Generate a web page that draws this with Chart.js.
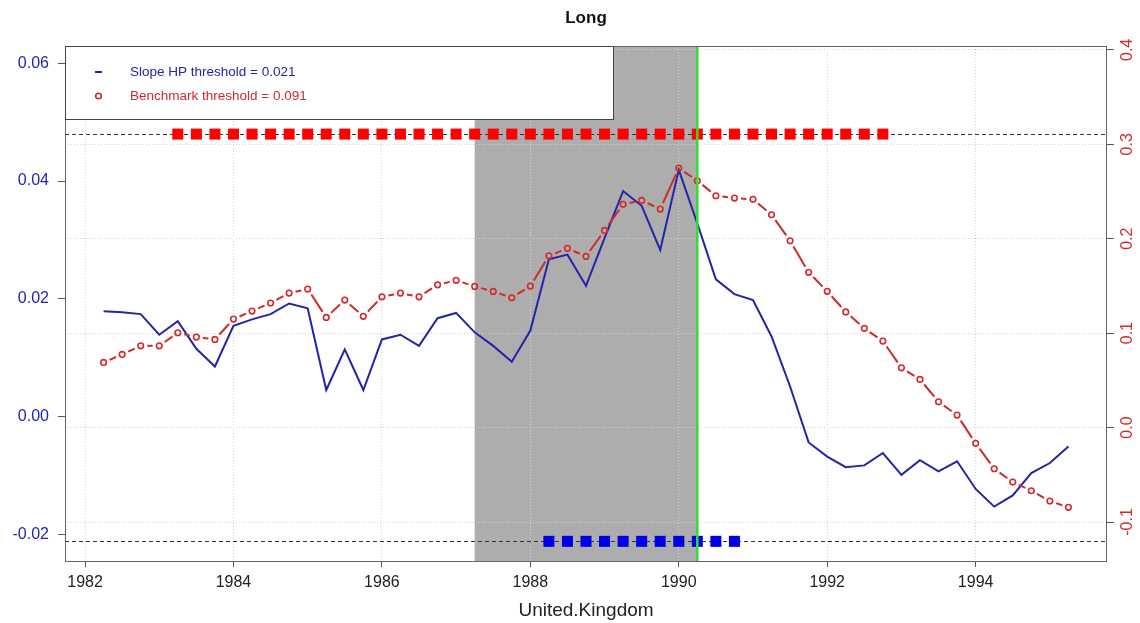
<!DOCTYPE html>
<html><head><meta charset="utf-8">
<script src="https://cdn.jsdelivr.net/npm/chart.js@4.4.1/dist/chart.umd.min.js"></script>
<style>html,body{margin:0;padding:0;background:#fff;} #wrap{width:1140px;height:623px;position:relative;}</style>
</head><body><div id="wrap"><canvas id="c"></canvas></div>
<script>
// ---- data ----
const quarters = [1982.25,1982.5,1982.75,1983,1983.25,1983.5,1983.75,1984,1984.25,1984.5,1984.75,1985,1985.25,1985.5,1985.75,1986,1986.25,1986.5,1986.75,1987,1987.25,1987.5,1987.75,1988,1988.25,1988.5,1988.75,1989,1989.25,1989.5,1989.75,1990,1990.25,1990.5,1990.75,1991,1991.25,1991.5,1991.75,1992,1992.25,1992.5,1992.75,1993,1993.25,1993.5,1993.75,1994,1994.25,1994.5,1994.75,1995,1995.25];
const slopeHP = [0.0179,0.0177,0.0174,0.0139,0.0162,0.0115,0.0085,0.0154,0.0165,0.0174,0.0192,0.0184,0.0045,0.0114,0.0045,0.0131,0.0139,0.0120,0.0167,0.0176,0.0143,0.0120,0.0093,0.0146,0.0267,0.0275,0.0222,0.0303,0.0383,0.0358,0.0283,0.0419,0.0328,0.0233,0.0208,0.0198,0.0136,0.0051,-0.0044,-0.0068,-0.0086,-0.0083,-0.0062,-0.0099,-0.0074,-0.0093,-0.0076,-0.0123,-0.0153,-0.0134,-0.0096,-0.0079,-0.0051];
const benchmark = [0.0690,0.0775,0.0866,0.0866,0.1004,0.0958,0.0934,0.1149,0.1234,0.1319,0.1424,0.1467,0.1167,0.1350,0.1178,0.1385,0.1424,0.1385,0.1512,0.1559,0.1495,0.1442,0.1375,0.1499,0.1819,0.1898,0.1813,0.2088,0.2364,0.2406,0.2314,0.2748,0.2614,0.2455,0.2431,0.2417,0.2254,0.1978,0.1644,0.1443,0.1225,0.1051,0.0916,0.0633,0.0510,0.0273,0.0132,-0.0167,-0.0436,-0.0577,-0.0669,-0.0778,-0.0845];
const benchmarkSignals = [1983.25,1983.5,1983.75,1984,1984.25,1984.5,1984.75,1985,1985.25,1985.5,1985.75,1986,1986.25,1986.5,1986.75,1987,1987.25,1987.5,1987.75,1988,1988.25,1988.5,1988.75,1989,1989.25,1989.5,1989.75,1990,1990.25,1990.5,1990.75,1991,1991.25,1991.5,1991.75,1992,1992.25,1992.5,1992.75];
const slopeSignals = [1988.25,1988.5,1988.75,1989,1989.25,1989.5,1989.75,1990,1990.25,1990.5,1990.75];
const slopeThresholdLine = -0.0212;     // left axis
const benchmarkThresholdLine = 0.3108;  // right axis
const crisisStart = 1987.25, crisisEnd = 1990.25, peakQuarter = 1990.25;
const xTicks = [1982,1984,1986,1988,1990,1992,1994];
const leftTicks = [-0.02,0,0.02,0.04,0.06];
const rightTicks = [-0.1,0,0.1,0.2,0.3,0.4];
const legendLabels = ['Slope HP threshold = 0.021','Benchmark threshold = 0.091'];
const titleText = 'Long';
const xTitle = 'United.Kingdom';

// ---- styling ----
const FONT = "'Liberation Sans', Arial, sans-serif";
const BLUE = '#2424a8', RED = '#cc2b2b';
const GAP = 6.6;

function rbDash(ctx){
  const p0 = ctx.p0, p1 = ctx.p1;
  const L = Math.hypot(p1.x-p0.x, p1.y-p0.y);
  if (L <= 2*GAP) return [0, L];
  return [0, GAP, L-2*GAP, GAP];
}

const decor = {
  id:'decor',
  beforeDraw(chart){
    const {ctx, chartArea:a, scales} = chart;
    ctx.save();
    ctx.fillStyle = '#fff';
    ctx.fillRect(0,0,chart.width,chart.height);
    const x0 = scales.x.getPixelForValue(crisisStart), x1 = scales.x.getPixelForValue(crisisEnd);
    ctx.fillStyle = '#adadad';
    ctx.fillRect(x0, a.top, x1-x0, a.bottom-a.top);
    ctx.restore();
  },
  beforeDatasetsDraw(chart){
    const {ctx, chartArea:a, scales} = chart;
    ctx.save();
    ctx.strokeStyle = '#333'; ctx.lineWidth = 1; ctx.setLineDash([4,3]);
    [[scales.yR, benchmarkThresholdLine],[scales.yL, slopeThresholdLine]].forEach(([s,v])=>{
      const y = Math.round(s.getPixelForValue(v))+0.5;
      ctx.beginPath(); ctx.moveTo(a.left,y); ctx.lineTo(a.right,y); ctx.stroke();
    });
    ctx.restore();
  },
  afterDatasetsDraw(chart){
    const {ctx, chartArea:a, scales} = chart;
    ctx.save();
    const gx = scales.x.getPixelForValue(peakQuarter);
    ctx.strokeStyle = '#2fe02f'; ctx.lineWidth = 2.5;
    ctx.beginPath(); ctx.moveTo(gx,a.top); ctx.lineTo(gx,a.bottom); ctx.stroke();
    ctx.strokeStyle = '#666'; ctx.lineWidth = 1;
    ctx.strokeRect(Math.round(a.left)+0.5, Math.round(a.top)+0.5, Math.round(a.right-a.left)-1, Math.round(a.bottom-a.top));
    const lx = Math.round(a.left)+0.5, ly = Math.round(a.top)+0.5, lw = 548, lh = 73;
    ctx.fillStyle = '#fff'; ctx.fillRect(lx, ly, lw, lh);
    ctx.strokeStyle = '#444'; ctx.strokeRect(lx, ly, lw, lh);
    ctx.font = '13.5px ' + FONT; ctx.textBaseline = 'middle'; ctx.textAlign = 'left';
    ctx.strokeStyle = BLUE; ctx.lineWidth = 2;
    ctx.beginPath(); ctx.moveTo(95, 72); ctx.lineTo(102, 72); ctx.stroke();
    ctx.fillStyle = BLUE; ctx.fillText(legendLabels[0], 130, 72);
    ctx.strokeStyle = RED; ctx.lineWidth = 1.6;
    ctx.beginPath(); ctx.arc(98.5, 96, 2.8, 0, Math.PI*2); ctx.stroke();
    ctx.fillStyle = RED; ctx.fillText(legendLabels[1], 130, 96);
    ctx.restore();
  }
};

const pts = (xs, ys) => xs.map((x,i)=>({x, y: Array.isArray(ys) ? ys[i] : ys}));

new Chart(document.getElementById('c'), {
  type:'line',
  data:{ datasets:[
    { type:'line', label:'Slope HP', data: pts(quarters, slopeHP), yAxisID:'yL',
      borderColor:BLUE, borderWidth:2, pointRadius:0, tension:0, fill:false, order:4 },
    { type:'line', label:'Benchmark', data: pts(quarters, benchmark), yAxisID:'yR',
      borderColor:RED, borderWidth:2, pointRadius:2.8, pointHoverRadius:2.8, pointStyle:'circle',
      pointBorderColor:'#d42a2a', pointBackgroundColor:'rgba(0,0,0,0)', pointBorderWidth:1.6,
      tension:0, fill:false, segment:{ borderDash: rbDash }, order:3 },
    { type:'scatter', label:'Benchmark signal', data: pts(benchmarkSignals, benchmarkThresholdLine), yAxisID:'yR',
      pointStyle:'rect', pointRadius:7.8, pointHoverRadius:7.8, backgroundColor:'#ff0000', borderWidth:0, order:2 },
    { type:'scatter', label:'Slope signal', data: pts(slopeSignals, slopeThresholdLine), yAxisID:'yL',
      pointStyle:'rect', pointRadius:7.8, pointHoverRadius:7.8, backgroundColor:'#0000e6', borderWidth:0, order:1 }
  ]},
  options:{
    responsive:true, maintainAspectRatio:false, animation:false,
    layout:{ padding:0 },
    plugins:{
      legend:{display:false}, tooltip:{enabled:false},
      title:{ display:true, text:titleText, fullSize:false, color:'#111',
        font:{family:FONT, size:17, weight:'bold'}, padding:{top:8, bottom:17.6} }
    },
    scales:{
      x:{ type:'linear', position:'bottom', min:1981.73, max:1995.77,
        afterBuildTicks: s => { s.ticks = xTicks.map(v=>({value:v})); },
        afterFit: s => { s.height = 62; },
        grid:{ color:'#d2d2d2', lineWidth:1, drawTicks:true, tickLength:6, tickColor:'#555', tickWidth:1 },
        border:{ display:false, dash:[1,2] },
        ticks:{ color:'#222', font:{family:FONT, size:16}, padding:6, maxRotation:0, minRotation:0, autoSkip:false, callback: v => String(v) },
        title:{ display:true, text:xTitle, color:'#222', font:{family:FONT, size:19}, padding:{top:0, bottom:1} } },
      yL:{ type:'linear', position:'left', min:-0.02454, max:0.06294,
        afterBuildTicks: s => { s.ticks = leftTicks.map(v=>({value:v})); },
        afterFit: s => { s.width = 65; },
        grid:{ drawOnChartArea:false, drawTicks:true, tickLength:7, tickColor:'#555' },
        border:{ display:false },
        ticks:{ color:'#2424b0', font:{family:FONT, size:16}, padding:9, autoSkip:false, callback: v => v.toFixed(2) } },
      yR:{ type:'linear', position:'right', min:-0.1413, max:0.4041,
        afterBuildTicks: s => { s.ticks = rightTicks.map(v=>({value:v})); },
        afterFit: s => { s.width = 33; },
        grid:{ drawOnChartArea:true, color:'#d2d2d2', lineWidth:1, drawTicks:true, tickLength:7, tickColor:'#555' },
        border:{ display:false, dash:[1,2] },
        ticks:{ color:'#d42a2a', font:{family:FONT, size:16}, padding:0, minRotation:90, maxRotation:90, crossAlign:'center', autoSkip:false, callback: v => v.toFixed(1) } }
    }
  },
  plugins:[decor]
});
</script>
</body></html>
